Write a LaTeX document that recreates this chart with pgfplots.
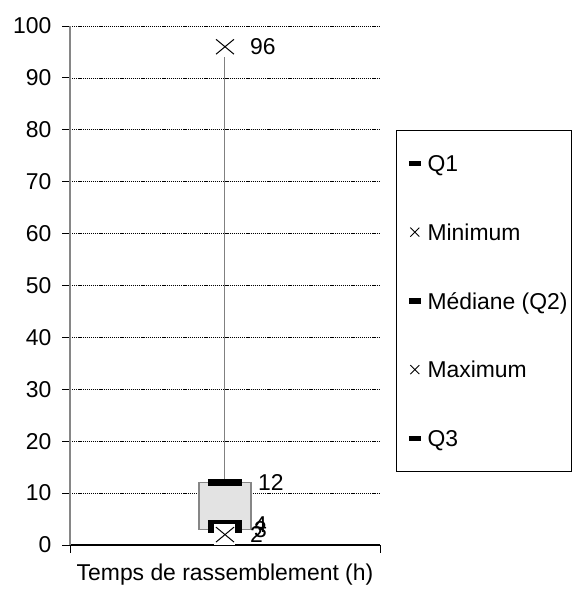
\documentclass[border=0pt]{standalone}
\usepackage{fontspec}
\setmainfont{Liberation Sans}
\usepackage{pgfplots}
\pgfplotsset{compat=1.18}
\definecolor{boxgray}{HTML}{E3E3E3}
\definecolor{axgray}{HTML}{868686}
\newcommand\cf{\fontsize{22.9bp}{27bp}\selectfont}
\begin{document}
\begin{tikzpicture}
\begin{axis}[
  scale only axis, width=310bp, height=519bp,
  xmin=0, xmax=2, ymin=0, ymax=100,
  clip=false,
  axis x line*=bottom, axis y line*=left,
  x axis line style={black, line width=1.2bp, -},
  y axis line style={axgray, line width=1.6bp, -},
  ytick={0,10,...,100}, xtick={0,2}, xticklabels={},
  tick align=outside, major tick length=7.5bp,
  tick style={black, line width=0.8bp},
  ymajorgrids,
  major grid style={black, line width=0.6bp, dash pattern=on 1.2bp off 0.9bp},
  /pgf/number format/assume math mode=true,
  yticklabel style={font=\cf, inner sep=0pt, anchor=east, xshift=-11bp},
  xlabel={Temps de rassemblement (h)},
  xlabel style={font=\cf, at={(axis description cs:0.5,0)}, anchor=base, yshift=-35bp, inner sep=0pt},
  legend cell align=left,
  legend style={at={(1.0516,0.7996)}, anchor=north west, draw=black, line width=0.8bp, fill=white,
    font=\cf, inner xsep=4bp, inner ysep=22bp, row sep=46.75bp, column sep=4bp,
    nodes={inner sep=0pt, text height=19.3bp, text depth=2.7bp}},
]
% box Q1..Q3
\addplot[fill=boxgray, draw=axgray, line width=1.3bp, forget plot]
  coordinates {(0.832,3) (1.168,3) (1.168,12) (0.832,12)} -- cycle;
% whisker
\addplot[gray, line width=1bp, forget plot] coordinates {(1,12) (1,96)};
% Q3, median, Q1 bars
\addplot[black, line width=7.5bp, forget plot] coordinates {(0.89,12) (1.11,12)};
\addplot[black, line width=7.5bp, forget plot] coordinates {(0.89,4) (1.11,4)};
\addplot[black, line width=7.5bp, forget plot] coordinates {(0.89,3) (1.11,3)};
% min / max markers (white ground, then cross)
\addplot[only marks, white, mark=square*, mark size=10bp, mark options={fill=white, draw=white, line width=0pt}, forget plot]
  coordinates {(1,96) (1,2)};
\addplot[only marks, black, mark=x, mark size=12.7bp, mark options={black, line width=1bp, yscale=0.83}, forget plot]
  coordinates {(1,96) (1,2)};
% data labels
\addplot[draw=none, forget plot, point meta=y, nodes near coords,
  nodes near coords style={font=\cf, anchor=west, inner sep=0pt, xshift=25bp}]
  coordinates {(1,96) (1,2)};
\addplot[draw=none, forget plot, point meta=y, nodes near coords,
  nodes near coords style={font=\cf, anchor=west, inner sep=0pt, xshift=33bp}]
  coordinates {(1,12)};
\addplot[draw=none, forget plot, point meta=y, nodes near coords,
  nodes near coords style={font=\cf, anchor=west, inner sep=0pt, xshift=29bp}]
  coordinates {(1,4) (1,3)};
% legend
\addlegendimage{legend image code/.code={\path (-8bp,0bp); \draw[black, line width=5.5bp] (0bp,0bp) -- (12bp,0bp);}}
\addlegendentry{Q1}
\addlegendimage{legend image code/.code={\path (-8bp,0bp) (12bp,0bp); \draw[black, line width=0.9bp] (1.5bp,-4.5bp) -- (10.5bp,4.5bp) (1.5bp,4.5bp) -- (10.5bp,-4.5bp);}}
\addlegendentry{Minimum}
\addlegendimage{legend image code/.code={\path (-8bp,0bp); \draw[black, line width=5.5bp] (0bp,0bp) -- (12bp,0bp);}}
\addlegendentry{Médiane (Q2)}
\addlegendimage{legend image code/.code={\path (-8bp,0bp) (12bp,0bp); \draw[black, line width=0.9bp] (1.5bp,-4.5bp) -- (10.5bp,4.5bp) (1.5bp,4.5bp) -- (10.5bp,-4.5bp);}}
\addlegendentry{Maximum}
\addlegendimage{legend image code/.code={\path (-8bp,0bp); \draw[black, line width=5.5bp] (0bp,0bp) -- (12bp,0bp);}}
\addlegendentry{Q3}
\end{axis}
\pgfresetboundingbox
\useasboundingbox (-70bp,-66bp) rectangle (502bp,545bp);
\end{tikzpicture}
\end{document}
